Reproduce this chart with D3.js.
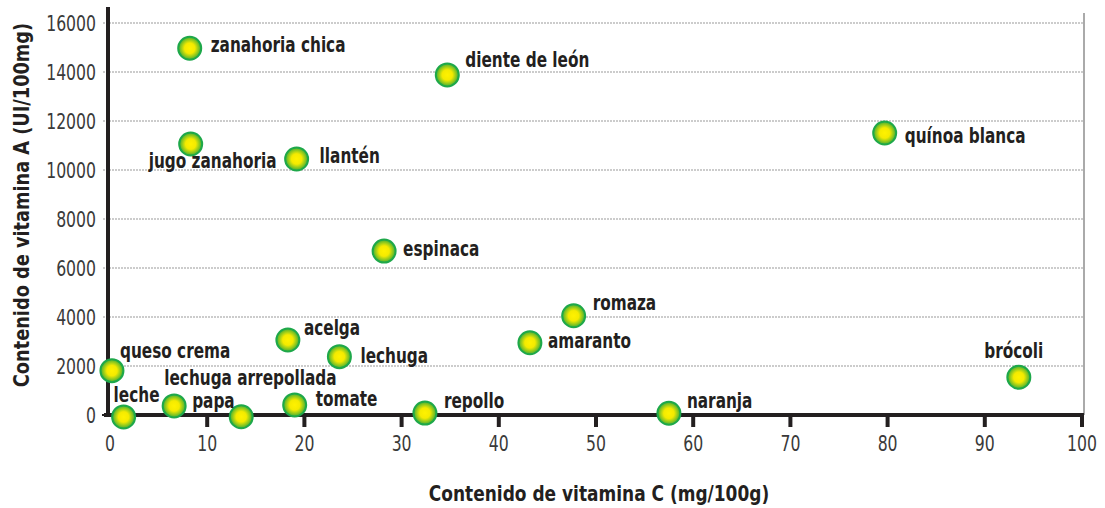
<!DOCTYPE html>
<html>
<head>
<meta charset="utf-8">
<script src="https://cdn.jsdelivr.net/npm/d3@7"></script>
<style>
  body { margin: 0; background: #fff; }
  svg text { font-family: "Liberation Sans Narrow", "Arial Narrow", "DejaVu Sans Condensed", sans-serif; }
</style>
</head>
<body>
<svg id="chart" width="1105" height="508"></svg>
<script>
// alimentos y su contenido de vitaminas
var names = ['queso crema','leche','papa','lechuga arrepollada','tomate','acelga','lechuga','repollo',
             'naranja','romaza','amaranto','brócoli','jugo zanahoria','zanahoria chica','diente de león',
             'llantén','espinaca','quínoa blanca'];
var vitC = [0.2, 1.4, 6.6, 13.5, 19.0, 18.3, 23.6, 32.4, 57.5, 47.7, 43.2, 93.5, 8.3, 8.2, 34.7, 19.2, 28.2, 79.7];
var vitA = [1810, -80, 370, -70, 410, 3060, 2380, 80, 70, 4050, 2950, 1540, 11060, 14970, 13880, 10450, 6690, 11510];
var xTicks = [0,10,20,30,40,50,60,70,80,90,100];
var yTicks = [0,2000,4000,6000,8000,10000,12000,14000,16000];

// donde va cada etiqueta respecto al punto [dx, dy, anchor]
var labelPos = [[8,-13,'start'],[-10,-15,'start'],[18,2,'start'],[-77,-32,'start'],[21,1,'start'],
                [16,-5,'start'],[21,6,'start'],[19,-5,'start'],[18,-5,'start'],[19,-6,'start'],
                [18,5,'start'],[-5,-19,'middle'],[-42,24,'start'],[21,4,'start'],[18,-8,'start'],
                [23,4,'start'],[19,5,'start'],[20,10,'start']];

var svg = d3.select("#chart");
var x = d3.scaleLinear().domain([0,100]).range([110,1082]);
var y = d3.scaleLinear().domain([0,16000]).range([415,23]);

// la fuente disponible es mas ancha que la del original, se angosta a mano
var narrow = 0.81;
function at(px, py, s) { return "translate(" + px + "," + py + ") scale(" + s + ",1)"; }

var defs = svg.append("defs");
var grad = defs.append("radialGradient").attr("id","bola");
grad.append("stop").attr("offset","0%").attr("stop-color","#fff200");
grad.append("stop").attr("offset","45%").attr("stop-color","#f4ea00");
grad.append("stop").attr("offset","100%").attr("stop-color","#3fae35");

// grilla
svg.selectAll(".grid").data(yTicks.slice(1)).enter().append("line")
	.attr("x1", 103).attr("x2", 1084)
	.attr("y1", function(d){ return y(d); }).attr("y2", function(d){ return y(d); })
	.attr("stroke", "#999").attr("stroke-width", 1).attr("stroke-dasharray", "2,1");

// borde derecho
svg.append("line").attr("x1",1084).attr("x2",1084).attr("y1",13).attr("y2",415)
	.attr("stroke","#aaa").attr("stroke-width",2);

// eje y
svg.append("line").attr("x1",108).attr("x2",108).attr("y1",7).attr("y2",417)
	.attr("stroke","#231f20").attr("stroke-width",4);
svg.append("line").attr("x1",102).attr("x2",108).attr("y1",y(0)).attr("y2",y(0))
	.attr("stroke","#231f20").attr("stroke-width",2);
svg.selectAll(".ylab").data(yTicks).enter().append("text")
	.attr("transform", function(d){ return at(96, y(d) + 8, 0.83); })
	.attr("text-anchor","end").attr("font-size", 21).attr("fill","#3a3a3a")
	.text(function(d){ return d; });

// eje x
svg.append("line").attr("x1",104).attr("x2",1084).attr("y1",415).attr("y2",415)
	.attr("stroke","#231f20").attr("stroke-width",4);
svg.selectAll(".xtick").data(xTicks.slice(1)).enter().append("line")
	.attr("x1", function(d){ return x(d); }).attr("x2", function(d){ return x(d); })
	.attr("y1", 415).attr("y2", 427)
	.attr("stroke","#231f20").attr("stroke-width",4);
svg.selectAll(".xlab").data(xTicks).enter().append("text")
	.attr("transform", function(d){ return at(x(d), 451, 0.83); })
	.attr("text-anchor","middle").attr("font-size", 21).attr("fill","#3a3a3a")
	.text(function(d){ return d; });

// titulos
svg.append("text").attr("transform", at(599, 501, 0.9)).attr("text-anchor","middle")
	.attr("font-size", 21).attr("font-weight","bold").attr("fill","#231f20")
	.text("Contenido de vitamina C (mg/100g)");
svg.append("text").attr("transform","translate(29,205) rotate(-90) scale(0.94,1)").attr("text-anchor","middle")
	.attr("font-size", 21).attr("font-weight","bold").attr("fill","#231f20")
	.text("Contenido de vitamina A (UI/100mg)");

// puntos
var idx = d3.range(names.length);
svg.selectAll(".pt").data(idx).enter().append("circle")
	.attr("cx", function(i){ return x(vitC[i]); })
	.attr("cy", function(i){ return y(vitA[i]); })
	.attr("r", 11.5)
	.attr("fill","url(#bola)").attr("stroke","#1ea84a").attr("stroke-width",2);

svg.selectAll(".lab").data(idx).enter().append("text")
	.attr("transform", function(i){
		return at(x(vitC[i]) + labelPos[i][0], y(vitA[i]) + labelPos[i][1], narrow);
	})
	.attr("text-anchor", function(i){ return labelPos[i][2]; })
	.attr("font-size", 21).attr("font-weight","bold").attr("fill","#231f20")
	.text(function(i){ return names[i]; });
</script>
</body>
</html>
